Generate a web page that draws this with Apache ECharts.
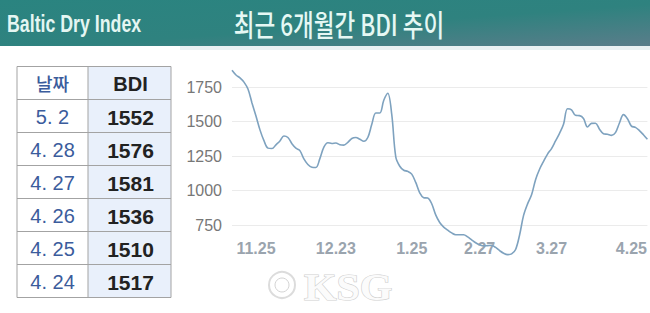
<!DOCTYPE html>
<html>
<head>
<meta charset="utf-8">
<style>
html,body{margin:0;padding:0;background:#fff;}
#chart{width:650px;height:313px;}
</style>
<script src="https://cdn.jsdelivr.net/npm/echarts@6/dist/echarts.min.js"></script>
</head>
<body>
<div id="chart"></div>
<script>
// ---- data ----
const bdiValues = [
  1871, 1837, 1816, 1785, 1735, 1635, 1540, 1440, 1362, 1308,
  1305, 1332, 1360, 1396, 1385, 1340, 1308, 1290, 1230, 1190,
  1170, 1168, 1232, 1315, 1347, 1342, 1345, 1333, 1330, 1350,
  1378, 1385, 1372, 1358, 1385, 1480, 1562, 1562, 1654, 1705,
  1550, 1245, 1177, 1148, 1140, 1120, 1060, 985, 950, 947,
  906, 825, 770, 737, 715, 695, 682, 682, 682, 666,
  645, 624, 609, 601, 603, 605, 590, 567, 548, 538,
  543, 575, 680, 822, 905, 970, 1080, 1155, 1212, 1265,
  1305, 1360, 1415, 1480, 1593, 1585, 1545, 1543, 1522, 1461,
  1487, 1488, 1445, 1412, 1408, 1400, 1420, 1490, 1550, 1521,
  1467, 1458, 1435, 1405, 1372
];
const tickIndex = [6, 26, 45, 62, 80, 100];
const tickLabels = ['11.25', '12.23', '1.25', '2.27', '3.27', '4.25'];
const yTicks = [750, 1000, 1250, 1500, 1750];

const tableHeader = ['날짜', 'BDI'];
const tableDates = ['5. 2', '4. 28', '4. 27', '4. 26', '4. 25', '4. 24'];
const tableBDI = [1552, 1576, 1581, 1536, 1510, 1517];

const headerLeft = 'Baltic Dry Index';
const headerTitle = '최근 6개월간 BDI 추이';
const watermark = 'KSG';

// ---- build ----
const categories = bdiValues.map((_, i) => String(i));

const graphics = [];
// header bar
graphics.push({
  type: 'rect', shape: {x: 0, y: 0, width: 650, height: 46}, z: 1,
  style: {fill: new echarts.graphic.LinearGradient(0, 0, 1, 1, [
    {offset: 0, color: '#2a8480'},
    {offset: 0.55, color: '#2f827f'},
    {offset: 1, color: '#5a7d8a'}
  ])}
});
graphics.push({type: 'rect', shape: {x: 180, y: 46, width: 470, height: 4}, z: 1, style: {fill: '#eaf1f3'}});
graphics.push({
  type: 'text', x: 7, y: 23, scaleX: 0.74, z: 2,
  style: {text: headerLeft, x: 0, y: 0, verticalAlign: 'middle', fill: '#e4f6f2',
    font: 'bold 24px "Liberation Sans", Arial, sans-serif'}
});
graphics.push({
  type: 'text', x: 339, y: 23, scaleX: 0.75, z: 2,
  style: {text: headerTitle, x: 0, y: 0, textAlign: 'center', verticalAlign: 'middle', fill: '#e6f8f4',
    font: '500 30px "Noto Sans CJK KR", sans-serif'}
});

// table
const tL = 17, tM = 88, tR = 171, tTop = 66.5, rowH = 33;
const nRows = tableDates.length + 1;
graphics.push({type: 'rect', shape: {x: tM, y: tTop, width: tR - tM, height: rowH * nRows}, z: 1, style: {fill: '#e9f0fb'}});
for (let r = 0; r <= nRows; r++) {
  graphics.push({type: 'line', z: 3, shape: {x1: tL, y1: tTop + r * rowH, x2: tR, y2: tTop + r * rowH},
    style: {stroke: '#a3a3a3', lineWidth: 1}});
}
[tL, tM, tR].forEach(x => graphics.push({type: 'line', z: 3,
  shape: {x1: x, y1: tTop, x2: x, y2: tTop + rowH * nRows}, style: {stroke: '#a3a3a3', lineWidth: 1}}));
const cL = (tL + tM) / 2, cR = (tM + tR) / 2 + 1;
graphics.push({type: 'text', z: 4, x: cL, y: tTop + rowH / 2,
  style: {text: tableHeader[0], textAlign: 'center', verticalAlign: 'middle', fill: '#3b5c9c',
    font: '500 18px "Noto Sans CJK KR", sans-serif'}});
graphics.push({type: 'text', z: 4, x: cR, y: tTop + rowH / 2 + 1,
  style: {text: tableHeader[1], textAlign: 'center', verticalAlign: 'middle', fill: '#222',
    font: 'bold 20px "Liberation Sans", Arial, sans-serif'}});
tableDates.forEach((d, i) => {
  const cy = tTop + rowH * (i + 1) + rowH / 2 + 1;
  graphics.push({type: 'text', z: 4, x: cL, y: cy,
    style: {text: d, textAlign: 'center', verticalAlign: 'middle', fill: '#3b5c9c',
      font: '20px "Liberation Sans", Arial, sans-serif'}});
  graphics.push({type: 'text', z: 4, x: cR, y: cy,
    style: {text: String(tableBDI[i]), textAlign: 'center', verticalAlign: 'middle', fill: '#222',
      font: 'bold 21px "Liberation Sans", Arial, sans-serif'}});
});

// watermark
graphics.push({type: 'circle', z: 0, shape: {cx: 282, cy: 285, r: 13},
  style: {fill: '#ffffff', stroke: '#dcdcdc', lineWidth: 2}});
graphics.push({type: 'circle', z: 0, shape: {cx: 282, cy: 285, r: 7},
  style: {fill: '#ffffff', stroke: '#d4d4d4', lineWidth: 1}});
graphics.push({type: 'text', z: 0, x: 304, y: 287, scaleX: 1.1,
  style: {text: watermark, x: 0, y: 0, verticalAlign: 'middle', fill: '#fbfbfb',
    stroke: '#d0d0d0', lineWidth: 1.2,
    font: 'bold 38px "Liberation Serif", serif'}});

const chart = echarts.init(document.getElementById('chart'), null, {renderer: 'svg'});
chart.setOption({
  animation: false,
  backgroundColor: '#ffffff',
  grid: {left: 232, right: 2, top: 87, bottom: 87.7},
  xAxis: {
    type: 'category', data: categories, boundaryGap: false,
    axisLine: {show: false}, axisTick: {show: false},
    axisLabel: {
      interval: (idx) => tickIndex.indexOf(idx) >= 0,
      formatter: (v, idx) => { const k = tickIndex.indexOf(Number(v)); return k >= 0 ? tickLabels[k] : ''; },
      color: '#9aa4ae', fontSize: 16, fontWeight: 'bold', margin: 15,
      fontFamily: '"Liberation Sans", Arial, sans-serif'
    },
    splitLine: {show: false}
  },
  yAxis: {
    type: 'value', min: yTicks[0], max: yTicks[yTicks.length - 1], interval: 250,
    axisLine: {show: false}, axisTick: {show: false},
    axisLabel: {color: '#777', fontSize: 16, margin: 10, formatter: (v) => String(v),
      fontFamily: '"Liberation Sans", Arial, sans-serif'},
    splitLine: {lineStyle: {color: '#ebebeb', width: 1}}
  },
  series: [{
    type: 'line', data: bdiValues, smooth: 0.35, clip: false, showSymbol: false, z: 5,
    lineStyle: {color: '#7ea2bf', width: 1.6}
  }],
  graphic: graphics
});
</script>
</body>
</html>
